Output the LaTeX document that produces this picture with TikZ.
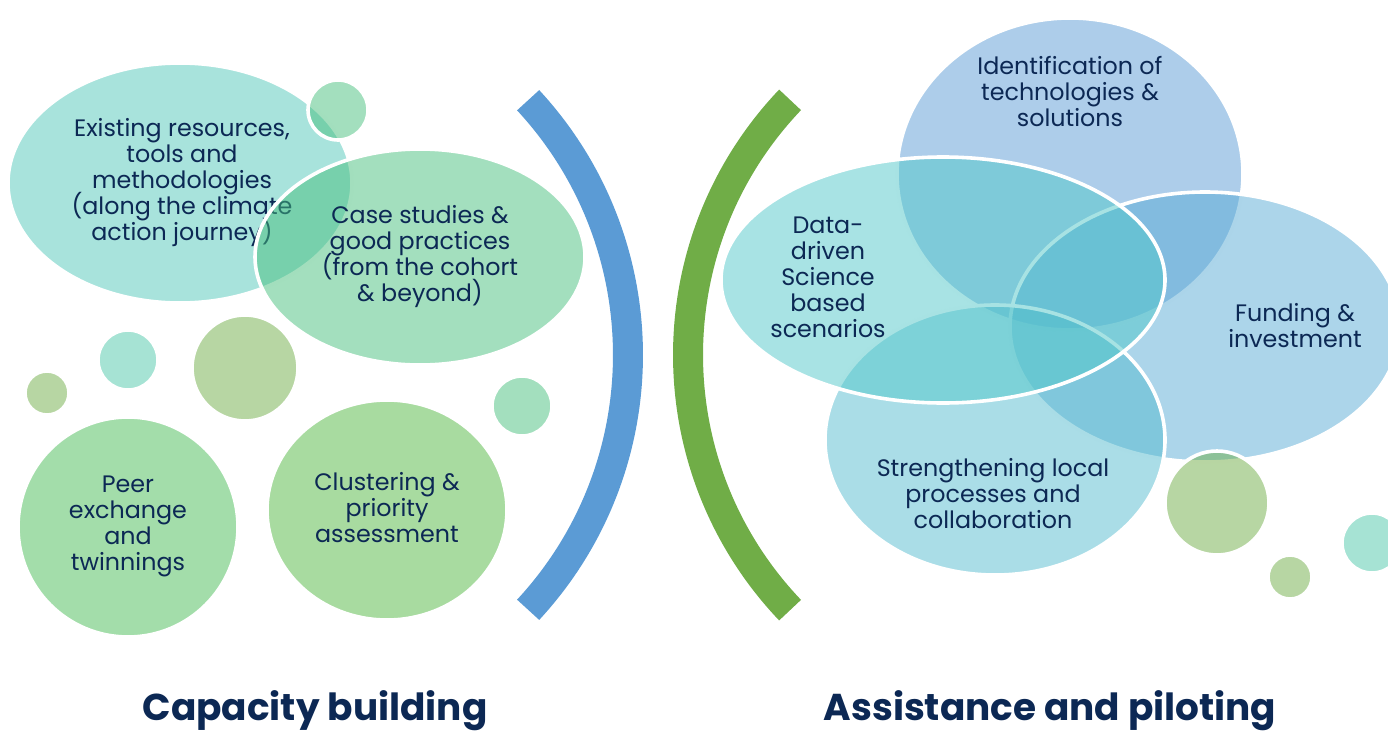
\documentclass[tikz,border=0pt]{standalone}
\usepackage{fontspec}
\setmainfont{Poppins}
\usepackage{tikz}
\usetikzlibrary{positioning}
\usepackage{xcolor}
\definecolor{navy}{RGB}{12,40,84}
\definecolor{tealA}{RGB}{81,199,185}
\definecolor{mintA}{RGB}{71,191,125}
\definecolor{tealS}{RGB}{77,199,169}
\definecolor{oliveA}{RGB}{112,173,71}
\definecolor{greenP}{RGB}{71,187,85}
\definecolor{greenC}{RGB}{81,183,65}
\definecolor{blueI}{RGB}{91,155,213}
\definecolor{blueF}{RGB}{89,171,213}
\definecolor{tealD}{RGB}{81,199,201}
\definecolor{tealT}{RGB}{85,187,207}
\definecolor{arcblue}{RGB}{91,155,213}
\definecolor{arcgreen}{RGB}{112,173,71}
\newcommand{\evenlines}{\lineskiplimit=-20pt\relax\lineskip=0pt\relax}

\begin{document}
\begin{tikzpicture}[
    x=0.5pt, y=-0.5pt,
    bubble/.style={draw=white, line width=1.8pt, fill opacity=0.5, draw opacity=1},
    txt/.style={align=center, text=navy, font=\fontsize{11.9}{13}\selectfont\evenlines},
    heading/.style={text=navy, font=\fontsize{18.7}{22}\selectfont\bfseries},
    bracket/.style={line width=15pt, line cap=butt}
]
    \useasboundingbox (0,0) rectangle (1388,734);

    % ---- Capacity building ----
    \filldraw[bubble, fill=tealA] (180,183) ellipse [x radius=172, y radius=120];
    \node[txt] (cb_existing) at (182,183) {Existing resources,\\tools and\\methodologies\\(along the climate\\action journey)};
    \filldraw[bubble, fill=mintA] (338,110) circle [radius=30];
    \filldraw[bubble, fill=mintA] (420,257) ellipse [x radius=165, y radius=108];
    \node[txt] (cb_case) at (420,257) {Case studies \&\\good practices\\(from the cohort\\\& beyond)};
    \filldraw[bubble, fill=tealS] (128,360) circle [radius=30];
    \filldraw[bubble, fill=oliveA] (245,368) ellipse [x radius=53, y radius=53];
    \filldraw[bubble, fill=oliveA] (47,393) circle [radius=22];
    \filldraw[bubble, fill=mintA] (522,406) circle [radius=30];
    \filldraw[bubble, fill=greenP] (128,527) ellipse [x radius=110, y radius=110];
    \node[txt] (cb_peer) at (128,526) {Peer\\exchange\\and\\twinnings};
    \filldraw[bubble, fill=greenC] (387,510) ellipse [x radius=120, y radius=110];
    \node[txt] (cb_clust) at (387,508) {Clustering \&\\priority\\assessment};

    % brackets
    \draw[bracket, arcblue] (253,355) ++(42.8:375) arc [start angle=42.8, end angle=-42.8, radius=375];
    \draw[bracket, arcgreen] (1058,355) ++(136.4:370) arc [start angle=136.4, end angle=223.6, radius=370];

    % ---- Assistance and piloting ----
    \filldraw[bubble, fill=blueI] (1070,174) ellipse [x radius=173, y radius=156];
    \node[txt] (ap_ident) at (1070,92) {Identification of\\technologies \&\\solutions};
    \filldraw[bubble, fill=blueF] (1205,327) ellipse [x radius=195, y radius=135];
    \node[txt] (ap_fund) at (1295,326) {Funding \&\\investment};
    \filldraw[bubble, fill=tealT] (995,440) ellipse [x radius=170, y radius=135];
    \node[txt] (ap_local) at (993,494) {Strengthening local\\processes and\\collaboration};
    \filldraw[bubble, fill=tealD] (943,280) ellipse [x radius=222, y radius=123];
    \node[txt] (ap_data) at (828,277) {Data-\\driven\\Science\\based\\scenarios};
    \filldraw[bubble, fill=oliveA] (1217,503) circle [radius=52];
    \filldraw[bubble, fill=oliveA] (1290,577) circle [radius=22];
    \filldraw[bubble, fill=tealS] (1372,543) circle [radius=30];

    % ---- headings ----
    \node[heading] (cb_title) at (315,711) {Capacity building};
    \node[heading] (ap_title) at (1050,711) {Assistance and piloting};
\end{tikzpicture}
\end{document}
